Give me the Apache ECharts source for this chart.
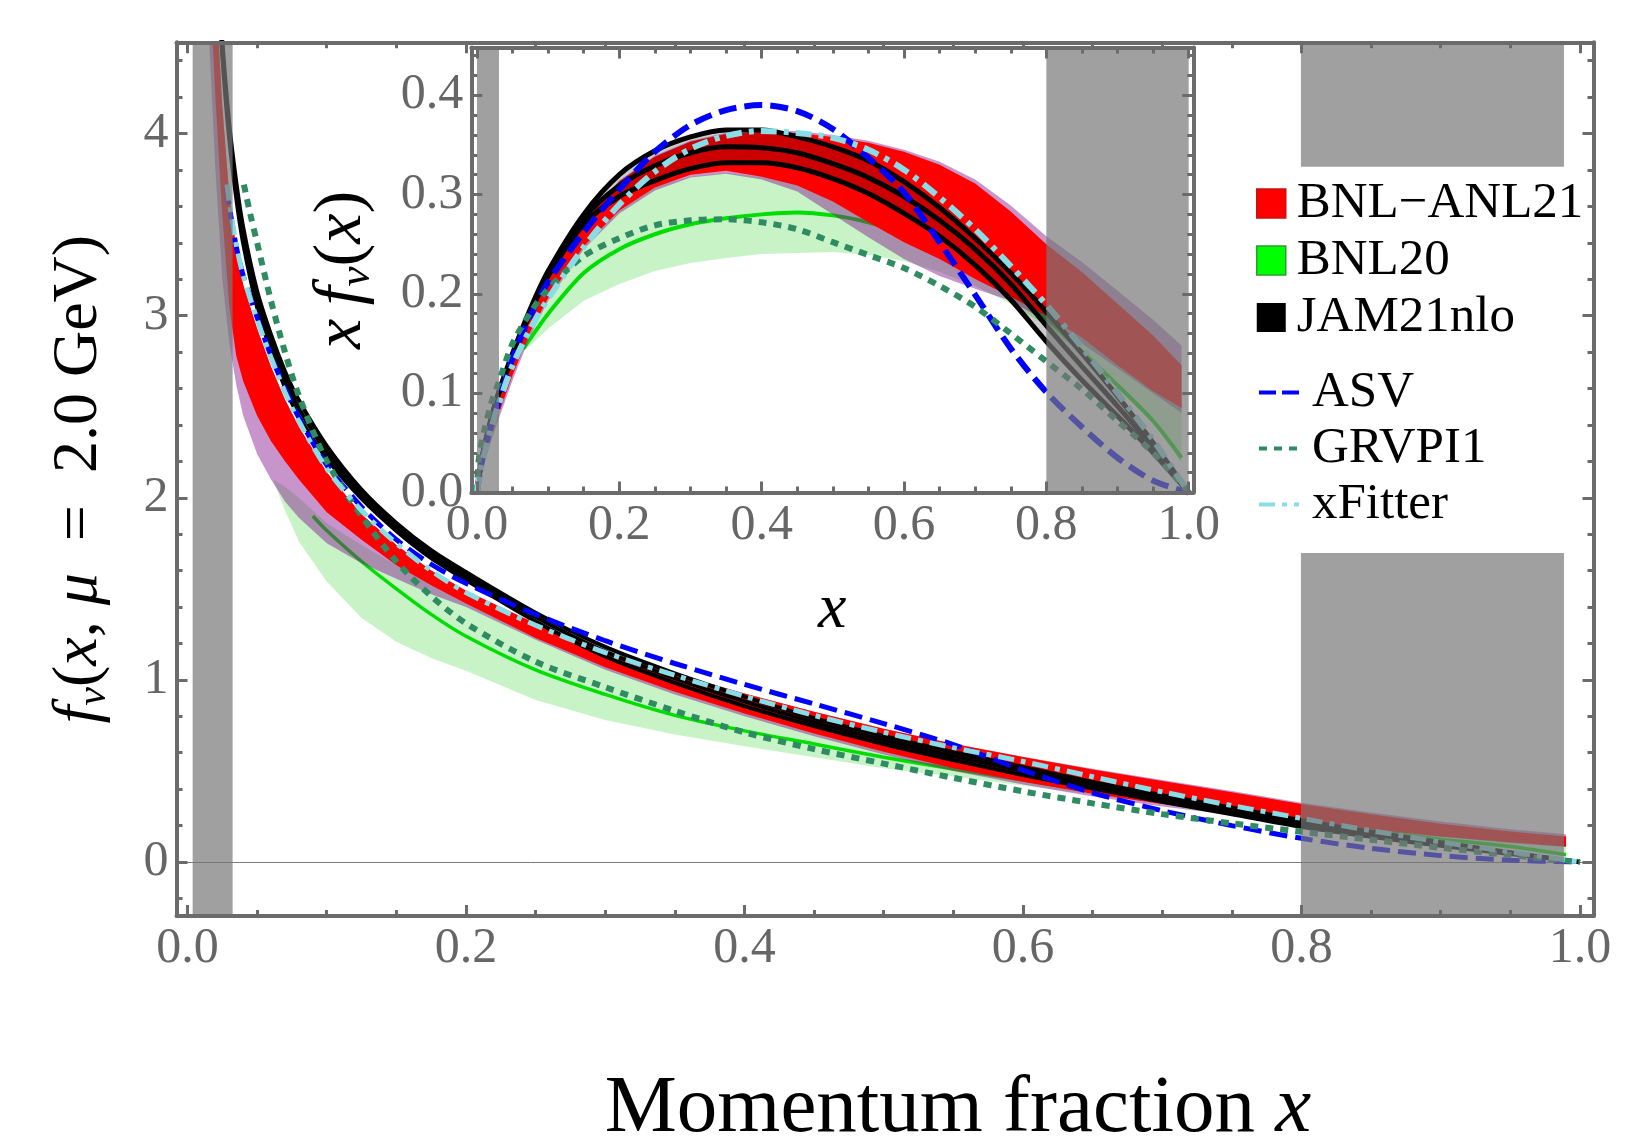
<!DOCTYPE html>
<html><head><meta charset="utf-8">
<script src="https://cdn.jsdelivr.net/npm/echarts@6/dist/echarts.min.js"></script>
<style>html,body{margin:0;padding:0;background:#fff}#c{width:1639px;height:1138px}</style>
</head><body><div id="c"></div>
<script>
// ---------------- tick labels ----------------
const X_TICKS = [0, 0.2, 0.4, 0.6, 0.8, 1.0];
const X_MINOR = [0.05,0.1,0.15,0.25,0.3,0.35,0.45,0.5,0.55,0.65,0.7,0.75,0.85,0.9,0.95];
const MAIN_Y_TICKS = [0, 1, 2, 3, 4];
const MAIN_Y_MINOR = [-0.2,0.2,0.4,0.6,0.8,1.2,1.4,1.6,1.8,2.2,2.4,2.6,2.8,3.2,3.4,3.6,3.8,4.2,4.4];
const INSET_Y_TICKS = [0, 0.1, 0.2, 0.3, 0.4];
const INSET_Y_MINOR = [0.02,0.04,0.06,0.08,0.12,0.14,0.16,0.18,0.22,0.24,0.26,0.28,0.32,0.34,0.36,0.38,0.42,0.44];

// axis ranges
const MAIN_XMIN = -0.0079, MAIN_XMAX = 1.0097, MAIN_YMIN = -0.2965, MAIN_YMAX = 4.501;
const INSET_XMIN = -0.008, INSET_XMAX = 1.0065, INSET_YMIN = 0, INSET_YMAX = 0.448;

// ---------------- main panel: f_v(x) ----------------
const MAIN_X = [0.015,0.02,0.025,0.03,0.035,0.04,0.05,0.06,0.07,0.08,0.1,0.125,0.15,0.175,0.2,0.25,0.3,0.35,0.4,0.45,0.5,0.55,0.6,0.65,0.7,0.75,0.8,0.85,0.9,0.95,0.99];
const BNLANL21_MAIN_HI = [5.6,4.85,4.15,3.66,3.37,3.17,2.93,2.72,2.54,2.39,2.14,1.91,1.74,1.6,1.49,1.31,1.16,1.035,0.925,0.825,0.732,0.65,0.576,0.508,0.445,0.383,0.318,0.262,0.21,0.168,0.14];
const BNLANL21_MAIN_LO = [5.0,4.2,3.55,3.05,2.78,2.64,2.45,2.31,2.2,2.1,1.92,1.77,1.63,1.52,1.42,1.23,1.07,0.935,0.815,0.705,0.605,0.515,0.44,0.375,0.318,0.268,0.225,0.18,0.14,0.108,0.085];
const SYS_MAIN_HI = [5.6,4.85,4.15,3.66,3.37,3.17,2.93,2.72,2.54,2.39,2.14,1.91,1.74,1.6,1.49,1.31,1.16,1.035,0.925,0.825,0.732,0.65,0.578,0.512,0.45,0.39,0.325,0.272,0.222,0.18,0.152];
const SYS_MAIN_LO = [4.6,3.8,3.2,2.85,2.62,2.45,2.24,2.1,1.98,1.89,1.75,1.64,1.555,1.47,1.4,1.22,1.055,0.92,0.8,0.69,0.59,0.5,0.425,0.36,0.305,0.258,0.215,0.175,0.138,0.105,0.082];

const JAM_MAIN_X = [0.015,0.02,0.025,0.03,0.035,0.04,0.05,0.06,0.07,0.08,0.1,0.125,0.15,0.175,0.2,0.25,0.3,0.35,0.4,0.45,0.5,0.55,0.6,0.65,0.7,0.75,0.8,0.85,0.9,0.95,1.0];
const JAM_MAIN_HI = [6.195,5.145,4.515,4.055,3.735,3.485,3.135,2.895,2.695,2.535,2.285,2.045,1.862,1.712,1.592,1.369,1.181,1.036,0.908,0.79,0.692,0.604,0.522,0.44,0.367,0.298,0.229,0.166,0.109,0.054,0];
const JAM_MAIN_MID = [6.15,5.1,4.47,4.01,3.69,3.44,3.09,2.85,2.65,2.49,2.25,2.02,1.84,1.69,1.57,1.345,1.155,1.01,0.882,0.768,0.67,0.582,0.5,0.422,0.349,0.28,0.211,0.152,0.099,0.049,0];
const JAM_MAIN_LO = [6.105,5.055,4.425,3.965,3.645,3.395,3.045,2.805,2.605,2.445,2.215,1.995,1.818,1.668,1.548,1.321,1.129,0.984,0.856,0.746,0.648,0.56,0.478,0.404,0.331,0.262,0.193,0.138,0.089,0.044,0];

const BNL20_MAIN_X = [0.062,0.07,0.08,0.1,0.125,0.15,0.175,0.2,0.25,0.3,0.35,0.4,0.45,0.5,0.55,0.6,0.65,0.7,0.75,0.8,0.85,0.9,0.95,0.99];
const BNL20_MAIN_HI = [2.1,2.06,2.0,1.86,1.74,1.63,1.53,1.44,1.25,1.08,0.94,0.82,0.71,0.615,0.53,0.46,0.4,0.345,0.295,0.25,0.205,0.16,0.12,0.095];
const BNL20_MAIN_LO = [2.09,1.93,1.76,1.54,1.34,1.21,1.12,1.05,0.89,0.78,0.7,0.635,0.575,0.515,0.47,0.42,0.37,0.32,0.27,0.22,0.17,0.12,0.07,0.03];
const BNL20_LINE_MAIN_X = [0.09,0.1,0.125,0.15,0.175,0.2,0.25,0.3,0.35,0.4,0.45,0.5,0.55,0.6,0.65,0.7,0.75,0.8,0.85,0.9,0.95,0.99];
const BNL20_LINE_MAIN = [1.9,1.82,1.65,1.5,1.36,1.24,1.055,0.92,0.805,0.72,0.648,0.575,0.51,0.45,0.39,0.335,0.283,0.233,0.175,0.125,0.085,0.04];

const ASV_MAIN_X = [0.0281,0.03,0.035,0.04,0.05,0.06,0.07,0.08,0.1,0.125,0.15,0.175,0.2,0.25,0.3,0.35,0.4,0.45,0.5,0.55,0.6,0.65,0.7,0.75,0.8,0.85,0.9,0.95,1.0];
const ASV_MAIN = [3.71,3.6,3.38,3.22,2.99,2.78,2.6,2.44,2.18,1.95,1.77,1.635,1.53,1.36,1.215,1.09,0.975,0.868,0.76,0.645,0.505,0.38,0.282,0.2,0.13,0.075,0.035,0.01,0];
const XFITTER_MAIN_X = [0.0283,0.03,0.035,0.04,0.05,0.06,0.07,0.08,0.1,0.125,0.15,0.175,0.2,0.25,0.3,0.35,0.4,0.45,0.5,0.55,0.6,0.65,0.7,0.75,0.8,0.85,0.9,0.95,1.0];
const XFITTER_MAIN = [3.72,3.62,3.39,3.22,2.98,2.77,2.58,2.42,2.16,1.93,1.75,1.6,1.48,1.3,1.15,1.025,0.91,0.805,0.712,0.628,0.552,0.468,0.385,0.31,0.24,0.172,0.11,0.055,0];
const GRV_MAIN_X = [0.0405,0.045,0.05,0.06,0.07,0.08,0.1,0.125,0.15,0.175,0.2,0.25,0.3,0.35,0.4,0.45,0.5,0.55,0.6,0.65,0.7,0.75,0.8,0.85,0.9,0.95,1.0];
const GRV_MAIN = [3.72,3.56,3.4,3.08,2.8,2.56,2.2,1.9,1.65,1.46,1.31,1.1,0.96,0.83,0.712,0.62,0.54,0.462,0.388,0.322,0.263,0.212,0.166,0.122,0.078,0.038,0];

// shaded (excluded) regions: [x0, x1, y0, y1]
const MAIN_SHADE = [[0.0037,0.0324,MAIN_YMIN,MAIN_YMAX],[0.7996,0.9885,3.818,MAIN_YMAX],[0.7996,0.9885,MAIN_YMIN,1.697]];

// ---------------- inset: x f_v(x) ----------------
const INSET_X = [0,0.005,0.01,0.02,0.03,0.05,0.075,0.1,0.15,0.2,0.25,0.3,0.35,0.4,0.45,0.5,0.55,0.6,0.65,0.7,0.75,0.8,0.85,0.9,0.95,1.0];
const JAM_IN_HI = [0,0.026,0.045,0.075,0.1,0.14,0.185,0.223,0.28,0.32,0.344,0.358,0.365,0.365,0.358,0.348,0.334,0.313,0.287,0.256,0.221,0.182,0.14,0.097,0.05,0];
const JAM_IN_MID = [0,0.026,0.045,0.074,0.099,0.139,0.183,0.221,0.276,0.309,0.329,0.342,0.348,0.347,0.342,0.331,0.317,0.298,0.274,0.245,0.21,0.168,0.127,0.087,0.045,0];
const JAM_IN_LO = [0,0.025,0.044,0.073,0.098,0.137,0.181,0.218,0.27,0.298,0.314,0.326,0.332,0.332,0.327,0.316,0.301,0.281,0.258,0.229,0.194,0.152,0.113,0.077,0.04,0];
const ASV_IN = [0,0.025,0.04,0.068,0.09,0.135,0.178,0.212,0.262,0.305,0.343,0.37,0.385,0.39,0.384,0.366,0.337,0.302,0.252,0.199,0.145,0.101,0.066,0.035,0.012,0];
const XFITTER_IN = [0,0.022,0.038,0.065,0.088,0.128,0.165,0.195,0.247,0.29,0.323,0.346,0.359,0.364,0.362,0.357,0.345,0.325,0.297,0.265,0.228,0.189,0.146,0.1,0.053,0];
const GRV_IN_X = [0,0.002,0.005,0.01,0.02,0.03,0.05,0.075,0.1,0.15,0.2,0.25,0.3,0.35,0.4,0.45,0.5,0.55,0.6,0.65,0.7,0.75,0.8,0.85,0.9,0.95,1.0];
const GRV_IN = [0,0.03,0.045,0.062,0.09,0.11,0.15,0.181,0.205,0.238,0.256,0.269,0.274,0.275,0.272,0.265,0.252,0.239,0.226,0.208,0.187,0.16,0.132,0.104,0.072,0.04,0];
const RED_IN_X = [0.003,0.01,0.02,0.03,0.05,0.075,0.1,0.15,0.2,0.25,0.3,0.35,0.4,0.45,0.5,0.55,0.6,0.65,0.7,0.75,0.8,0.85,0.9,0.95,0.99];
const BNLANL21_IN_HI = [0.016,0.04,0.066,0.09,0.133,0.178,0.214,0.272,0.313,0.338,0.353,0.361,0.363,0.362,0.358,0.352,0.343,0.33,0.311,0.283,0.25,0.222,0.19,0.158,0.128];
const BNLANL21_IN_LO = [0.012,0.033,0.056,0.078,0.118,0.162,0.196,0.248,0.284,0.307,0.32,0.324,0.318,0.309,0.293,0.272,0.252,0.235,0.215,0.197,0.178,0.156,0.128,0.102,0.085];
const SYS_IN_HI = [0.017,0.041,0.067,0.091,0.134,0.179,0.215,0.273,0.314,0.339,0.354,0.362,0.364,0.364,0.36,0.354,0.345,0.333,0.315,0.289,0.258,0.232,0.203,0.174,0.148];
const SYS_IN_LO = [0.01,0.03,0.052,0.073,0.113,0.158,0.193,0.245,0.281,0.304,0.317,0.321,0.315,0.303,0.28,0.257,0.235,0.218,0.205,0.193,0.172,0.15,0.125,0.1,0.08];
const BNL20_IN_X = [0.065,0.075,0.1,0.15,0.2,0.25,0.3,0.35,0.4,0.45,0.5,0.55,0.6,0.65,0.7,0.75,0.8,0.85,0.9,0.95,0.99];
const BNL20_IN_HI = [0.15,0.165,0.2,0.25,0.285,0.308,0.318,0.322,0.318,0.309,0.298,0.285,0.272,0.258,0.243,0.225,0.202,0.175,0.145,0.112,0.09];
const BNL20_IN_LO = [0.142,0.148,0.165,0.193,0.21,0.223,0.231,0.236,0.24,0.241,0.242,0.239,0.233,0.222,0.208,0.19,0.168,0.14,0.108,0.07,0.03];
const BNL20_IN_LINE = [0.145,0.155,0.18,0.221,0.245,0.26,0.27,0.276,0.28,0.282,0.279,0.272,0.26,0.245,0.227,0.203,0.175,0.142,0.108,0.072,0.035];
const INSET_SHADE = [[0,0.0309,INSET_YMIN,INSET_YMAX],[0.8,1.0,INSET_YMIN,INSET_YMAX]];

// ---------------- styling ----------------
const FONT = 'Liberation Serif';
const AXC = '#6b6b6b';
const SHADE = 'rgba(120,120,120,0.7)';
const C_RED = '#ff0000', C_SYS = 'rgba(130,20,140,0.45)', C_GBAND = 'rgba(0,200,0,0.22)', C_GLINE = '#00dd00';
const C_JAMBAND = 'rgba(0,0,0,0.2)', C_ASV = '#0000ff', C_GRV = '#2e8b62', C_XF = '#88dde6';
const DASH_ASV = [18, 8], DASH_GRV = [8, 7], DASH_XF = [16, 7, 5, 7];

const pairs = (xs, ys) => xs.map((x, i) => [x, ys[i]]);
const rows3 = (xs, lo, hi) => xs.map((x, i) => [x, lo[i], hi[i]]);

function band(name, xs, lo, hi, fill, legendColor, ai, z) {
  const rows = rows3(xs, lo, hi);
  return {
    type: 'custom', name, xAxisIndex: ai, yAxisIndex: ai, z, clip: true, silent: true,
    itemStyle: {color: legendColor}, encode: {x: 0, y: [1, 2]}, data: rows,
    renderItem: function (params, api) {
      if (params.dataIndex !== 0) return null;
      const up = rows.map(r => api.coord([r[0], r[2]]));
      const dn = rows.map(r => api.coord([r[0], r[1]])).reverse();
      return {type: 'polygon', shape: {points: up.concat(dn)}, style: {fill: fill}};
    }
  };
}
function line(name, data, color, width, type, ai, z) {
  return {
    type: 'line', name, data, xAxisIndex: ai, yAxisIndex: ai, z, symbol: 'none', smooth: 0.3,
    silent: true, clip: true, lineStyle: {color, width, type, cap: 'butt'}, itemStyle: {color},
    emphasis: {disabled: true}
  };
}
function shade(rows, ai, z) {
  return {
    type: 'custom', xAxisIndex: ai, yAxisIndex: ai, z, silent: true, data: rows,
    encode: {x: [0, 1], y: [2, 3]},
    renderItem: function (params, api) {
      const a = api.coord([api.value(0), api.value(3)]);
      const b = api.coord([api.value(1), api.value(2)]);
      return {type: 'rect', shape: {x: a[0], y: a[1], width: b[0] - a[0], height: b[1] - a[1]}, style: {fill: SHADE}};
    }
  };
}
function ax(grid, position, min, max, ticks, len, showLine, z, labels, fmt, extra) {
  return Object.assign({
    type: 'value', gridIndex: grid, position, min, max, z,
    axisLine: {show: showLine, onZero: false, lineStyle: {color: AXC, width: 4}},
    axisTick: {show: true, inside: true, length: len, customValues: ticks, lineStyle: {color: AXC, width: 3}},
    axisLabel: labels ? {show: true, customValues: labels, formatter: fmt, margin: 8,
      fontFamily: FONT, fontSize: 50, color: '#666'} : {show: false},
    splitLine: {show: false}, axisPointer: {show: false}
  }, extra || {});
}
const f1 = v => v.toFixed(1);
const f0 = v => String(Math.round(v));
const rich = (size, lh) => ({
  n: {fontFamily: FONT, fontSize: size, lineHeight: lh, color: '#000'},
  i: {fontFamily: FONT, fontStyle: 'italic', fontSize: size, lineHeight: lh, color: '#000'},
  s: {fontFamily: FONT, fontStyle: 'italic', fontSize: Math.round(size * 0.66), lineHeight: Math.round(size * 0.6), verticalAlign: 'bottom', color: '#000'}
});

const xAxis = [
  ax(0, 'bottom', MAIN_XMIN, MAIN_XMAX, X_TICKS, 11, true, 9, X_TICKS, f1, {
    name: '{n|Momentum fraction }{i|x}', nameLocation: 'middle', nameGap: 153,
    nameTextStyle: {padding: [0, 0, 0, 146], rich: rich(81, 82)}}),
  ax(0, 'bottom', MAIN_XMIN, MAIN_XMAX, X_MINOR, 6, false, 9),
  ax(0, 'top', MAIN_XMIN, MAIN_XMAX, X_TICKS, 11, true, 9),
  ax(0, 'top', MAIN_XMIN, MAIN_XMAX, X_MINOR, 6, false, 9),
  ax(1, 'bottom', INSET_XMIN, INSET_XMAX, X_TICKS, 11, true, 40, X_TICKS, f1, {
    name: '{i|x}', nameLocation: 'middle', nameGap: 86, nameTextStyle: {rich: rich(64, 64)}}),
  ax(1, 'bottom', INSET_XMIN, INSET_XMAX, X_MINOR, 6, false, 40),
  ax(1, 'top', INSET_XMIN, INSET_XMAX, X_TICKS, 11, true, 40),
  ax(1, 'top', INSET_XMIN, INSET_XMAX, X_MINOR, 6, false, 40)
];
const yAxis = [
  ax(0, 'left', MAIN_YMIN, MAIN_YMAX, MAIN_Y_TICKS, 11, true, 9, MAIN_Y_TICKS, f0, {
    name: '{i|f}{s|v}{n|(}{i|x}{n|, }{i|μ}{n|\u2002=\u20022.0 GeV)}', nameLocation: 'middle', nameRotate: 90, nameGap: 62,
    nameTextStyle: {rich: rich(64, 70)}}),
  ax(0, 'left', MAIN_YMIN, MAIN_YMAX, MAIN_Y_MINOR, 6, false, 9),
  ax(0, 'right', MAIN_YMIN, MAIN_YMAX, MAIN_Y_TICKS, 11, true, 9),
  ax(0, 'right', MAIN_YMIN, MAIN_YMAX, MAIN_Y_MINOR, 6, false, 9),
  ax(1, 'left', INSET_YMIN, INSET_YMAX, INSET_Y_TICKS, 11, true, 40, INSET_Y_TICKS, f1, {
    name: '{i|x\u2009f}{s|v}{n|(}{i|x}{n|)}', nameLocation: 'middle', nameRotate: 90, nameGap: 92,
    nameTextStyle: {rich: rich(68, 74)}}),
  ax(1, 'left', INSET_YMIN, INSET_YMAX, INSET_Y_MINOR, 6, false, 40),
  ax(1, 'right', INSET_YMIN, INSET_YMAX, INSET_Y_TICKS, 11, true, 40),
  ax(1, 'right', INSET_YMIN, INSET_YMAX, INSET_Y_MINOR, 6, false, 40)
];

const series = [
  // main panel
  {type: 'line', xAxisIndex: 0, yAxisIndex: 0, data: [], z: 2, silent: true,
   markLine: {silent: true, symbol: 'none', label: {show: false}, animation: false,
     lineStyle: {color: '#7a7a7a', width: 1, type: 'solid'}, data: [{yAxis: 0}]}},
  band('BNL20', BNL20_MAIN_X, BNL20_MAIN_LO, BNL20_MAIN_HI, C_GBAND, '#00ff00', 0, 3),
  line('BNL20', pairs(BNL20_LINE_MAIN_X, BNL20_LINE_MAIN), C_GLINE, 3.5, 'solid', 0, 3),
  band('BNL−ANL21 sys', MAIN_X, SYS_MAIN_LO, SYS_MAIN_HI, C_SYS, '#a050b0', 0, 4),
  band('BNL−ANL21', MAIN_X, BNLANL21_MAIN_LO, BNLANL21_MAIN_HI, C_RED, C_RED, 0, 5),
  band('JAM21nlo', JAM_MAIN_X, JAM_MAIN_LO, JAM_MAIN_HI, C_JAMBAND, '#000', 0, 6),
  line('JAM21nlo', pairs(JAM_MAIN_X, JAM_MAIN_HI), '#000', 4, 'solid', 0, 6),
  line('JAM21nlo', pairs(JAM_MAIN_X, JAM_MAIN_MID), '#000', 4, 'solid', 0, 6),
  line('JAM21nlo', pairs(JAM_MAIN_X, JAM_MAIN_LO), '#000', 4, 'solid', 0, 6),
  line('ASV', pairs(ASV_MAIN_X, ASV_MAIN), C_ASV, 5, DASH_ASV, 0, 7),
  line('GRVPI1', pairs(GRV_MAIN_X, GRV_MAIN), C_GRV, 6, DASH_GRV, 0, 7),
  line('xFitter', pairs(XFITTER_MAIN_X, XFITTER_MAIN), C_XF, 5, DASH_XF, 0, 7),
  shade(MAIN_SHADE, 0, 8),
  // inset
  band('BNL20', BNL20_IN_X, BNL20_IN_LO, BNL20_IN_HI, C_GBAND, '#00ff00', 4, 21),
  line('BNL20', pairs(BNL20_IN_X, BNL20_IN_LINE), C_GLINE, 4, 'solid', 4, 21),
  band('BNL−ANL21 sys', RED_IN_X, SYS_IN_LO, SYS_IN_HI, C_SYS, '#a050b0', 4, 22),
  band('BNL−ANL21', RED_IN_X, BNLANL21_IN_LO, BNLANL21_IN_HI, C_RED, C_RED, 4, 23),
  band('JAM21nlo', INSET_X, JAM_IN_LO, JAM_IN_HI, C_JAMBAND, '#000', 4, 24),
  line('JAM21nlo', pairs(INSET_X, JAM_IN_HI), '#000', 5, 'solid', 4, 24),
  line('JAM21nlo', pairs(INSET_X, JAM_IN_MID), '#000', 5, 'solid', 4, 24),
  line('JAM21nlo', pairs(INSET_X, JAM_IN_LO), '#000', 5, 'solid', 4, 24),
  line('ASV', pairs(INSET_X, ASV_IN), C_ASV, 6, DASH_ASV, 4, 25),
  line('GRVPI1', pairs(GRV_IN_X, GRV_IN), C_GRV, 6, DASH_GRV, 4, 25),
  line('xFitter', pairs(INSET_X, XFITTER_IN), C_XF, 6, DASH_XF, 4, 25),
  Object.assign(shade(INSET_SHADE, 4, 28), {
    markLine: {silent: true, symbol: 'none', label: {show: false}, animation: false,
      lineStyle: {color: 'rgba(255,255,255,0.35)', width: 1, type: 'solid'}, data: [{yAxis: 0.37}]}})
];

const legendText = pad => ({fontFamily: FONT, fontSize: 51, color: '#000', padding: [0, 0, 0, pad]});
const noSymbol = {color: 'rgba(0,0,0,0)', borderWidth: 0, opacity: 0};
const option = {
  animation: false,
  backgroundColor: '#ffffff',
  textStyle: {fontFamily: FONT},
  grid: [
    {left: 176.5, right: 45.5, top: 42.3, bottom: 222, containLabel: false, outerBoundsMode: 'none'},
    {left: 471.3, right: 445.7, top: 47.5, bottom: 645.5, containLabel: false, outerBoundsMode: 'none',
     show: true, backgroundColor: '#ffffff', borderWidth: 0, z: 20}
  ],
  xAxis, yAxis,
  legend: [
    {orient: 'vertical', left: 1256, top: 178, padding: 0, itemWidth: 29, itemHeight: 29, itemGap: 6, selectedMode: false, z: 10,
     textStyle: legendText(6),
     data: [
       {name: 'BNL−ANL21', icon: 'rect', itemStyle: {color: '#ff0000', borderColor: '#c81010', borderWidth: 1.5}},
       {name: 'BNL20', icon: 'rect', itemStyle: {color: '#00ff00', borderColor: '#2a9d2a', borderWidth: 1.5}},
       {name: 'JAM21nlo', icon: 'rect', itemStyle: {color: '#000000', borderWidth: 0}}
     ]},
    {orient: 'vertical', left: 1257, top: 367, padding: 0, itemWidth: 40, itemHeight: 29, itemGap: 5, selectedMode: false, z: 10,
     textStyle: legendText(8),
     data: [
       {name: 'ASV', itemStyle: noSymbol, lineStyle: {color: C_ASV, width: 4, type: [17, 6]}},
       {name: 'GRVPI1', itemStyle: noSymbol, lineStyle: {color: C_GRV, width: 4, type: DASH_GRV}},
       {name: 'xFitter', itemStyle: noSymbol, lineStyle: {color: C_XF, width: 4, type: DASH_XF}}
     ]}
  ],
  series
};
const chart = echarts.init(document.getElementById('c'), null, {renderer: 'canvas', width: 1639, height: 1138});
chart.setOption(option);
</script></body></html>
